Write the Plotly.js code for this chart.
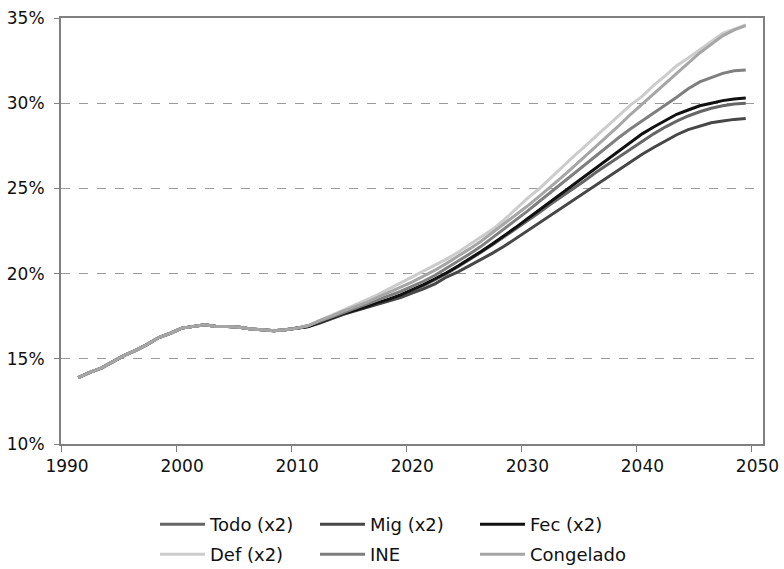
<!DOCTYPE html>
<html>
<head>
<meta charset="utf-8">
<script src="https://cdn.plot.ly/plotly-3.0.1.min.js"></script>
<style>html,body{margin:0;padding:0;background:#fff;}#chart{width:784px;height:569px;}</style>
</head>
<body>
<div id="chart"></div>
<script>
// Years (category centres)
const years = [1991,1992,1993,1994,1995,1996,1997,1998,1999,2000,
  2001,2002,2003,2004,2005,2006,2007,2008,2009,2010,
  2011,2012,2013,2014,2015,2016,2017,2018,2019,2020,
  2021,2022,2023,2024,2025,2026,2027,2028,2029,2030,
  2031,2032,2033,2034,2035,2036,2037,2038,2039,2040,
  2041,2042,2043,2044,2045,2046,2047,2048,2049];

// Observed history 1991-2010 (%), shared by all scenarios
const history = [13.9,14.2,14.45,14.85,15.2,15.5,15.85,16.25,16.5,16.8,
  16.9,17.0,16.9,16.9,16.85,16.75,16.7,16.65,16.7,16.8];

// Projections 2011-2049 (%)
const todo = [16.9,17.15,17.4,17.65,17.85,18.05,18.25,18.45,18.7,19.0,
  19.3,19.65,20.0,20.4,20.8,21.25,21.7,22.15,22.6,23.1,
  23.55,24.05,24.5,25.0,25.45,25.95,26.4,26.9,27.35,27.8,
  28.2,28.6,28.95,29.25,29.5,29.7,29.85,29.95,30.0];
const mig = [16.9,17.1,17.35,17.6,17.8,18.0,18.2,18.4,18.6,18.85,
  19.1,19.4,19.8,20.1,20.45,20.85,21.2,21.6,22.05,22.5,
  22.95,23.4,23.85,24.3,24.75,25.2,25.65,26.1,26.55,27.0,
  27.4,27.8,28.15,28.45,28.65,28.85,28.95,29.05,29.1];
const fec = [16.9,17.15,17.4,17.65,17.85,18.05,18.3,18.5,18.75,19.05,
  19.35,19.7,20.05,20.45,20.85,21.3,21.75,22.2,22.7,23.2,
  23.7,24.2,24.65,25.2,25.7,26.2,26.7,27.2,27.7,28.2,
  28.6,29.0,29.35,29.6,29.85,30.0,30.15,30.25,30.3];
const def = [16.95,17.25,17.55,17.85,18.15,18.45,18.75,19.1,19.45,19.8,
  20.15,20.5,20.85,21.25,21.7,22.15,22.6,23.15,23.8,24.4,
  24.95,25.6,26.2,26.85,27.45,28.05,28.7,29.25,29.9,30.4,
  31.05,31.6,32.2,32.65,33.15,33.6,34.1,34.35,34.6];
const ine = [16.95,17.2,17.45,17.7,17.95,18.2,18.45,18.7,18.95,19.25,
  19.55,19.9,20.3,20.7,21.15,21.6,22.1,22.6,23.1,23.65,
  24.2,24.75,25.3,25.85,26.4,26.95,27.5,28.0,28.5,28.95,
  29.4,29.9,30.35,30.85,31.25,31.5,31.75,31.9,31.95];
const congelado = [16.95,17.25,17.5,17.8,18.05,18.3,18.6,18.9,19.2,19.5,
  19.85,20.2,20.6,21.0,21.45,21.9,22.4,22.9,23.45,23.95,
  24.5,25.05,25.65,26.25,26.85,27.45,28.1,28.7,29.35,29.95,
  30.6,31.2,31.8,32.4,32.95,33.45,33.95,34.3,34.55];

const seriesNames = ['Todo (x2)','Mig (x2)','Fec (x2)','Def (x2)','INE','Congelado'];
const seriesData = [todo, mig, fec, def, ine, congelado];
const seriesColors = ['#666666','#474747','#111111','#cccccc','#7f7f7f','#a6a6a6'];
const seriesLegend = ['legend','legend','legend','legend2','legend2','legend2'];

// Axis ticks: boundaries between categories, labels on category centres
const tickPos = [1989.5,1999.5,2009.5,2019.5,2029.5,2039.5,2049.5];
const tickLabels = ['1990','2000','2010','2020','2030','2040','2050'];

const traces = seriesData.map((vals, i) => ({
  type: 'scatter', mode: 'lines',
  x: years, y: history.concat(vals),
  name: seriesNames[i],
  legend: seriesLegend[i],
  line: {color: seriesColors[i], width: 3}
}));

const fontFam = 'DejaVu Sans, Liberation Sans, Arial, sans-serif';
const legendCommon = {
  orientation: 'h', xref: 'container', yref: 'container',
  xanchor: 'left', yanchor: 'top',
  entrywidth: 100, entrywidthmode: 'pixels', itemwidth: 45,
  font: {family: fontFam, size: 18, color: '#111'},
  bgcolor: 'rgba(0,0,0,0)', borderwidth: 0, tracegroupgap: 0
};

const layout = {
  width: 784, height: 569,
  margin: {l: 61, r: 21, t: 18, b: 125},
  paper_bgcolor: '#ffffff', plot_bgcolor: '#ffffff',
  showlegend: true,
  xaxis: {
    type: 'linear', range: [1989.5, 2050.5], fixedrange: true,
    tickmode: 'array', tickvals: tickPos, ticktext: tickLabels,
    ticklabelshift: 6,
    ticks: 'outside', ticklen: 6, tickcolor: '#808080', tickwidth: 1,
    showgrid: false, zeroline: false,
    showline: true, linecolor: '#808080', linewidth: 2, mirror: true,
    tickfont: {family: fontFam, size: 17, color: '#111'}
  },
  yaxis: {
    range: [10, 35], dtick: 5, tick0: 10, fixedrange: true,
    ticksuffix: '%',
    ticks: 'outside', ticklen: 5, tickcolor: '#808080', tickwidth: 1,
    showgrid: true, gridcolor: '#9a9a9a', griddash: 'dash', gridwidth: 1,
    zeroline: false,
    showline: true, linecolor: '#808080', linewidth: 2, mirror: true,
    tickfont: {family: fontFam, size: 17, color: '#111'},
    ticklabelstandoff: 6
  },
  legend: Object.assign({}, legendCommon, {x: 155/784, y: 1 - 506/569}),
  legend2: Object.assign({}, legendCommon, {x: 155/784, y: 1 - 536/569})
};

Plotly.newPlot('chart', traces, layout, {displayModeBar: false, staticPlot: true});
</script>
</body>
</html>
